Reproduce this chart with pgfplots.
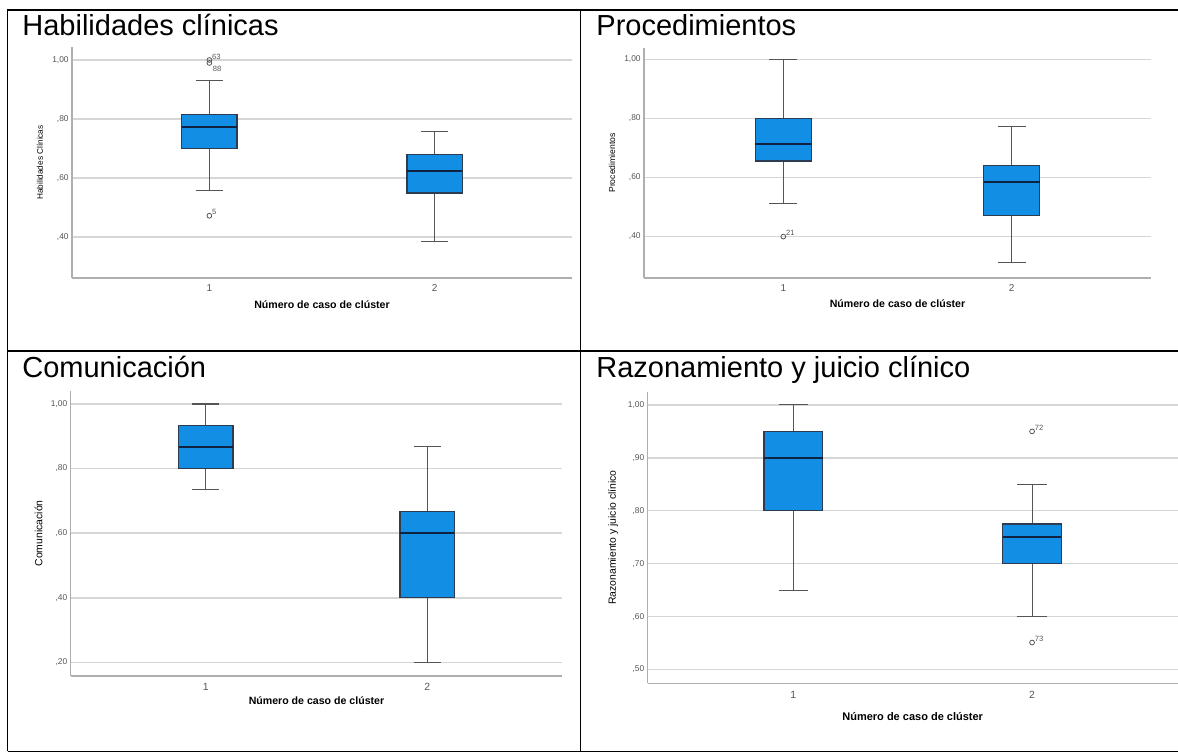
\documentclass[border=0pt]{standalone}
\usepackage{fontspec}
\setmainfont{Liberation Sans}
\usepackage{pgfplots}
\pgfplotsset{compat=1.18}
\usepgfplotslibrary{statistics}
\definecolor{boxblue}{RGB}{18,142,229}
\definecolor{boxedge}{RGB}{45,60,80}
\definecolor{medline}{RGB}{15,35,65}
\definecolor{whisk}{RGB}{85,85,85}
\definecolor{gridc}{RGB}{214,214,214}
\definecolor{axisc}{RGB}{175,175,175}
\definecolor{tickc}{RGB}{85,85,85}
\pgfplotsset{spss/.style={
  scale only axis,
  xmin=0.39, xmax=2.61,
  axis lines=left, axis line style={-, draw=axisc, line width=0.7pt},
  xtick={1,2}, xticklabels={1,2},
  major tick length=0pt,
  ymajorgrids, grid style={draw=gridc, line width=0.7pt},
  yticklabel style={anchor=east, inner sep=0pt, xshift=-1.5pt, font=\fontsize{4.2}{5}\selectfont, text=tickc},
  xlabel style={font=\bfseries\fontsize{5.3}{6}\selectfont},
  boxplot/draw direction=y,
  boxplot/box extend=0.245, boxplot/whisker extend=0.123,
  boxplot/every box/.style={draw=boxedge, fill=boxblue, line width=0.6pt},
  boxplot/every whisker/.style={draw=whisk, line width=0.55pt},
  boxplot/every median/.style={draw=medline, line width=1pt},
  clip=false,
},
outl/.style={only marks, mark=o, mark size=1.2pt, draw=whisk, mark options={line width=0.4pt},
  nodes near coords, point meta=explicit symbolic,
  nodes near coords style={anchor=south west, inner sep=0pt, xshift=1.2pt, yshift=0.2pt, font=\fontsize{3.8}{4}\selectfont, text=tickc}},
}
\begin{document}
\begin{tikzpicture}
\path[use as bounding box] (0,0) rectangle (589pt,377pt);
% table borders
\draw[line width=0.9pt] (3.75pt,1.25pt) -- (3.75pt,372pt) -- (589pt,372pt);
\draw[line width=0.9pt] (3.75pt,201.5pt) -- (589pt,201.5pt);
\draw[line width=0.9pt] (290.25pt,1.25pt) -- (290.25pt,372pt);
\draw[line width=0.9pt] (3.75pt,1.25pt) -- (589pt,1.25pt);
% titles
\node[anchor=base west, inner sep=0pt, font=\fontsize{14.5}{17}\selectfont] at (11pt,359pt) {Habilidades clínicas};
\node[anchor=base west, inner sep=0pt, font=\fontsize{14.5}{17}\selectfont] at (298pt,359pt) {Procedimientos};
\node[anchor=base west, inner sep=0pt, font=\fontsize{14.5}{17}\selectfont] at (11pt,188pt) {Comunicación};
\node[anchor=base west, inner sep=0pt, font=\fontsize{14.5}{17}\selectfont] at (298pt,188pt) {Razonamiento y juicio clínico};

% Panel 1
\begin{axis}[spss, at={(36pt,238pt)}, anchor=south west, width=250pt, height=115.5pt,
  ymin=0.261, ymax=1.044, ytick={0.4,0.6,0.8,1.0}, yticklabels={{,40},{,60},{,80},{1,00}},
  xticklabel style={anchor=center, yshift=-5pt, font=\fontsize{5}{5}\selectfont, text=tickc},
  xlabel={Número de caso de clúster}, xlabel style={at={([yshift=-13.5pt]axis description cs:0.5,0)}, anchor=center},
  ylabel={Habilidades Clínicas}, ylabel style={at={([xshift=-16pt]axis description cs:0,0.5)}, anchor=center, font=\fontsize{4.1}{5}\selectfont}]
\addplot[boxplot prepared={draw position=1, lower whisker=0.557, lower quartile=0.70, median=0.772, upper quartile=0.815, upper whisker=0.93}] coordinates {};
\addplot[boxplot prepared={draw position=2, lower whisker=0.384, lower quartile=0.549, median=0.624, upper quartile=0.68, upper whisker=0.758}] coordinates {};
\addplot[outl] coordinates {(1,1.0) [63] (1,0.99) [] (1,0.472) [5]};
\addplot[draw=none, nodes near coords, point meta=explicit symbolic,
  nodes near coords style={anchor=west, inner sep=0pt, xshift=1.5pt, font=\fontsize{3.8}{4}\selectfont, text=tickc}] coordinates {(1,0.97) [88]};
\end{axis}

% Panel 2
\begin{axis}[spss, at={(322pt,238pt)}, anchor=south west, width=253.5pt, height=115pt,
  ymin=0.26, ymax=1.038, ytick={0.4,0.6,0.8,1.0}, yticklabels={{,40},{,60},{,80},{1,00}},
  xticklabel style={anchor=center, yshift=-5pt, font=\fontsize{5}{5}\selectfont, text=tickc},
  xlabel={Número de caso de clúster}, xlabel style={at={([yshift=-13pt]axis description cs:0.5,0)}, anchor=center},
  ylabel={Procedimientos}, ylabel style={at={([xshift=-16pt]axis description cs:0,0.5)}, anchor=center, font=\fontsize{4.3}{5}\selectfont}]
\addplot[boxplot prepared={draw position=1, lower whisker=0.512, lower quartile=0.656, median=0.713, upper quartile=0.80, upper whisker=1.0}] coordinates {};
\addplot[boxplot prepared={draw position=2, lower whisker=0.311, lower quartile=0.471, median=0.584, upper quartile=0.641, upper whisker=0.771}] coordinates {};
\addplot[outl] coordinates {(1,0.40) [21]};
\end{axis}

% Panel 3
\begin{axis}[spss, at={(35.35pt,39pt)}, anchor=south west, width=245.8pt, height=142.65pt,
  ymin=0.158, ymax=1.041, ytick={0.2,0.4,0.6,0.8,1.0}, yticklabels={{,20},{,40},{,60},{,80},{1,00}},
  xticklabel style={anchor=center, yshift=-5.3pt, font=\fontsize{5.2}{5}\selectfont, text=tickc},
  xlabel={Número de caso de clúster}, xlabel style={at={([yshift=-12.3pt]axis description cs:0.5,0)}, anchor=center},
  ylabel={Comunicación}, ylabel style={at={([xshift=-16pt]axis description cs:0,0.5)}, anchor=center, font=\fontsize{5.2}{6}\selectfont}]
\addplot[boxplot prepared={draw position=1, lower whisker=0.734, lower quartile=0.80, median=0.867, upper quartile=0.934, upper whisker=1.0}] coordinates {};
\addplot[boxplot prepared={draw position=2, lower whisker=0.20, lower quartile=0.40, median=0.60, upper quartile=0.667, upper whisker=0.867}] coordinates {};
\end{axis}

% Panel 4
\begin{axis}[spss, at={(323.85pt,35.35pt)}, anchor=south west, width=265pt, height=145.8pt,
  ymin=0.474, ymax=1.025, ytick={0.5,0.6,0.7,0.8,0.9,1.0}, yticklabels={{,50},{,60},{,70},{,80},{,90},{1,00}},
  xticklabel style={anchor=center, yshift=-5.8pt, font=\fontsize{5.2}{5}\selectfont, text=tickc},
  xlabel={Número de caso de clúster}, xlabel style={at={([yshift=-16.8pt]axis description cs:0.5,0)}, anchor=center, font=\bfseries\fontsize{5.5}{6}\selectfont},
  ylabel={Razonamiento y juicio clínico}, ylabel style={at={([xshift=-17.3pt]axis description cs:0,0.5)}, anchor=center, font=\fontsize{5.2}{6}\selectfont}]
\addplot[boxplot prepared={draw position=1, lower whisker=0.65, lower quartile=0.80, median=0.90, upper quartile=0.95, upper whisker=1.0}] coordinates {};
\addplot[boxplot prepared={draw position=2, lower whisker=0.60, lower quartile=0.70, median=0.75, upper quartile=0.775, upper whisker=0.85}] coordinates {};
\addplot[outl] coordinates {(2,0.95) [72] (2,0.551) [73]};
\end{axis}
\end{tikzpicture}
\end{document}
